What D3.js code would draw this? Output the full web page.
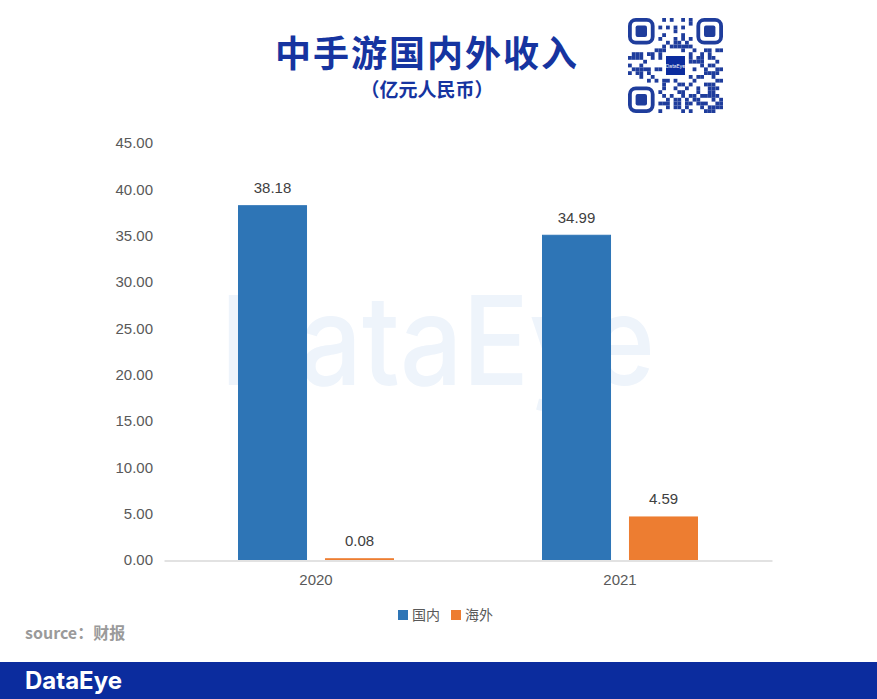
<!DOCTYPE html>
<html>
<head>
<meta charset="utf-8">
<script src="https://cdn.jsdelivr.net/npm/d3@7"></script>
<style>
  body { margin: 0; background: #fff; }
  svg { display: block; }
</style>
</head>
<body>
<div id="chart"></div>
<script>
(function() {
    'use strict';

    // data
    var categories = ["2020", "2021"];
    var seriesNames = ["国内", "海外"];
    var domestic = [38.18, 34.99];
    var overseas = [0.08, 4.59];
    var yTicks = [0, 5, 10, 15, 20, 25, 30, 35, 40, 45];
    var colors = ["#2e75b6", "#ed7d31"];

    var width = 877, height = 699;

    var svg = d3.select("#chart").append("svg")
        .attr("width", width)
        .attr("height", height);

    // watermark
    svg.append("text")
        .attr("x", 220)
        .attr("y", 385)
        .attr("textLength", 435)
        .attr("lengthAdjust", "spacingAndGlyphs")
        .style("font-family", "Inter, 'Open Sans', sans-serif")
        .style("font-size", "124px")
        .style("font-weight", 500)
        .attr("fill", "#eef4fb")
        .text("DataEye");

    // title
    svg.append("text")
        .attr("x", 427).attr("y", 67)
        .attr("text-anchor", "middle")
        .style("font-family", "'Noto Sans CJK SC', sans-serif")
        .style("font-size", "36px")
        .style("font-weight", 700)
        .style("letter-spacing", "2px")
        .attr("fill", "#1634a0")
        .text("中手游国内外收入");

    svg.append("text")
        .attr("x", 427).attr("y", 97)
        .attr("text-anchor", "middle")
        .style("font-family", "'Noto Sans CJK SC', sans-serif")
        .style("font-size", "19px")
        .style("font-weight", 700)
        .attr("fill", "#1634a0")
        .text("（亿元人民币）");

    // scales
    var x0 = d3.scaleBand().domain(categories).range([164, 772]).paddingInner(0);
    var groupW = 155;
    var x1 = d3.scaleBand().domain(seriesNames).range([0, groupW]).paddingInner(0.218);
    var y = d3.scaleLinear().domain([0, 45]).range([560, 143]);

    // y axis labels
    var yAxis = d3.axisLeft(y).tickValues(yTicks).tickFormat(d3.format(".2f")).tickSize(0).tickPadding(0);
    var gy = svg.append("g").attr("transform", "translate(153,0)").call(yAxis);
    gy.select(".domain").remove();
    gy.selectAll("text")
        .style("font-family", "'Liberation Sans', Arial, sans-serif")
        .style("font-size", "15px")
        .attr("fill", "#595959");

    // x axis (drawn before bars so the tiny bar stays visible)
    var xAxis = d3.axisBottom(x0).tickSize(0).tickPadding(14);
    var gx = svg.append("g").attr("transform", "translate(0,560.5)").call(xAxis);
    gx.select(".domain").attr("stroke", "#d9d9d9").attr("stroke-width", 1.5);
    gx.selectAll("text")
        .style("font-family", "'Liberation Sans', Arial, sans-serif")
        .style("font-size", "15px")
        .attr("fill", "#595959");

    // bars
    var rows = categories.map(function(c, i) {
        return { cat: c, values: [domestic[i], overseas[i]] };
    });

    var groups = svg.selectAll(".grp")
        .data(rows).enter()
        .append("g")
        .attr("class", "grp")
        .attr("transform", function(d) {
            return "translate(" + (x0(d.cat) + x0.bandwidth() / 2 - groupW / 2) + ",0)";
        });

    groups.selectAll("rect")
        .data(function(d) {
            return d.values.map(function(v, k) { return { name: seriesNames[k], v: v, k: k }; });
        }).enter()
        .append("rect")
        .attr("x", function(d) { return x1(d.name); })
        .attr("width", x1.bandwidth())
        .attr("y", function(d) { return y(d.v) - 0.5; })
        .attr("height", function(d) { return y(0) - y(d.v); })
        .attr("fill", function(d) { return colors[d.k]; })
        .attr("stroke", function(d) { return colors[d.k]; })
        .attr("stroke-width", 1);

    groups.selectAll(".lbl")
        .data(function(d) {
            return d.values.map(function(v, k) { return { name: seriesNames[k], v: v }; });
        }).enter()
        .append("text")
        .attr("class", "lbl")
        .attr("x", function(d) { return x1(d.name) + x1.bandwidth() / 2; })
        .attr("y", function(d) { return y(d.v) - 13; })
        .attr("text-anchor", "middle")
        .style("font-family", "'Liberation Sans', Arial, sans-serif")
        .style("font-size", "15px")
        .attr("fill", "#404040")
        .text(function(d) { return d3.format(".2f")(d.v); });

    // legend
    var legendX = [398, 451];
    var legend = svg.selectAll(".leg")
        .data(seriesNames).enter()
        .append("g")
        .attr("class", "leg")
        .attr("transform", function(d, i) { return "translate(" + legendX[i] + ",610)"; });
    legend.append("rect")
        .attr("width", 10).attr("height", 10)
        .attr("fill", function(d, i) { return colors[i]; });
    legend.append("text")
        .attr("x", 14).attr("y", 10)
        .style("font-family", "'Noto Sans CJK SC', serif")
        .style("font-size", "14px")
        .attr("fill", "#595959")
        .text(function(d) { return d; });

    // source
    svg.append("text")
        .attr("x", 25).attr("y", 639)
        .style("font-family", "'Noto Sans CJK SC', sans-serif")
        .style("font-size", "16px")
        .style("font-weight", 700)
        .attr("fill", "#9a9a9a")
        .text("source：财报");

    // footer band
    svg.append("rect")
        .attr("x", 0).attr("y", 662)
        .attr("width", width).attr("height", height - 662)
        .attr("fill", "#0b2c9e");
    svg.append("text")
        .attr("x", 25).attr("y", 689)
        .attr("textLength", 97)
        .attr("lengthAdjust", "spacingAndGlyphs")
        .style("font-family", "Inter, 'Open Sans', sans-serif")
        .style("font-size", "24px")
        .style("font-weight", 700)
        .attr("fill", "#fff")
        .text("DataEye");

    // qr code (decorative)
    var qr = svg.append("g").attr("transform", "translate(628,18)");
    var n = 25, cell = 95 / n, qrColor = "#1f3d9c";
    var cells = [];
    for (var i = 0; i < n; i++) {
        for (var j = 0; j < n; j++) {
            var inFinder = (i < 8 && j < 8) || (i < 8 && j >= n - 8) || (i >= n - 8 && j < 8);
            var inLogo = i >= 9 && i <= 15 && j >= 9 && j <= 15;
            if (inFinder || inLogo) continue;
            var h = ((i * 73856093) ^ (j * 19349663) ^ (i * j * 83492791)) >>> 0;
            if (h % 7 < 3) cells.push([i, j]);
        }
    }
    qr.selectAll(".m").data(cells).enter()
        .append("rect")
        .attr("x", function(d) { return d[1] * cell; })
        .attr("y", function(d) { return d[0] * cell; })
        .attr("width", cell).attr("height", cell)
        .attr("fill", qrColor);
    var finders = [[0, 0], [0, n - 7], [n - 7, 0]];
    finders.forEach(function(f) {
        qr.append("rect")
            .attr("x", f[1] * cell + cell / 2).attr("y", f[0] * cell + cell / 2)
            .attr("width", cell * 6).attr("height", cell * 6)
            .attr("rx", 6)
            .attr("fill", "none").attr("stroke", qrColor).attr("stroke-width", cell);
        qr.append("rect")
            .attr("x", (f[1] + 2) * cell).attr("y", (f[0] + 2) * cell)
            .attr("width", cell * 3).attr("height", cell * 3)
            .attr("rx", 2)
            .attr("fill", qrColor);
    });
    qr.append("rect")
        .attr("x", 10 * cell).attr("y", 10 * cell)
        .attr("width", 5 * cell).attr("height", 5 * cell)
        .attr("fill", "#0b2c9e");
    qr.append("text")
        .attr("x", 12.5 * cell).attr("y", 12.5 * cell + 2)
        .attr("text-anchor", "middle")
        .style("font-family", "Inter, sans-serif")
        .style("font-size", "5px")
        .attr("fill", "#fff")
        .text("DataEye");
})();
</script>
</body>
</html>
